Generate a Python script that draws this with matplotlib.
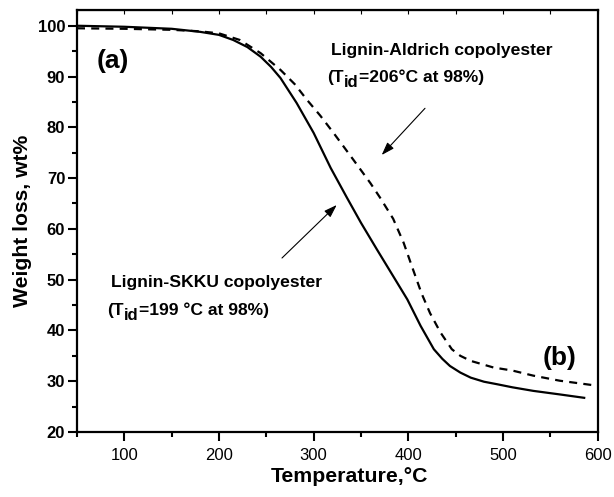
import matplotlib
matplotlib.use("Agg")
import matplotlib.pyplot as plt
from matplotlib.ticker import MultipleLocator

plt.rcParams['font.family'] = ['Liberation Sans', 'DejaVu Sans']

# Lignin-SKKU copolyester (solid)
skku_t = [50, 100, 150, 180, 200, 215, 230, 244, 255, 265, 282, 300, 318, 335, 350, 367, 384, 399,
          413, 427, 436, 444, 455, 466, 480, 494, 510, 532, 560, 587]
skku_w = [100.0, 99.8, 99.4, 98.8, 98.2, 97.2, 95.8, 93.9, 91.9, 89.7, 84.8, 78.9, 72.0, 66.2, 61.2,
          55.9, 50.7, 46.1, 40.9, 36.3, 34.4, 33.0, 31.7, 30.7, 29.9, 29.4, 28.8, 28.1, 27.4, 26.7]
# Lignin-Aldrich copolyester (dashed)
ald_t = [50, 100, 150, 180, 200, 222, 244, 265, 280, 293, 307, 321, 342, 360, 370, 384, 395, 405,
         414, 423, 434, 446, 455, 466, 490, 510, 532, 560, 600]
ald_w = [99.5, 99.4, 99.2, 98.9, 98.5, 97.2, 94.6, 91.3, 88.5, 85.4, 82.3, 78.9, 73.6, 69.0, 66.2,
         62.0, 57.3, 52.0, 47.3, 43.4, 39.6, 36.3, 35.0, 34.0, 32.7, 32.1, 31.1, 30.1, 29.1]

xticks = [100, 200, 300, 400, 500, 600]
yticks = [20, 30, 40, 50, 60, 70, 80, 90, 100]

W, H = 614, 497
fig = plt.figure(figsize=(W / 100, H / 100), dpi=100)
ax = fig.add_axes([77 / W, 1 - 432 / H, (597.6 - 77) / W, (432 - 10) / H])

ax.plot(skku_t, skku_w, color='black', lw=1.6, solid_joinstyle='round', solid_capstyle='butt')
ax.plot(ald_t, ald_w, color='black', lw=1.6, dashes=(3.6, 2.8))

ax.set_xlim(50, 600)
ax.set_ylim(20, 103.1)
ax.set_xticks(xticks)
ax.set_yticks(yticks)
ax.xaxis.set_minor_locator(MultipleLocator(50))
ax.yaxis.set_minor_locator(MultipleLocator(5))
ax.tick_params(axis='both', which='major', direction='out', length=6.5, width=1.5)
ax.tick_params(axis='both', which='minor', direction='out', length=3.5, width=1.5)
ax.tick_params(axis='x', labelsize=12, pad=5)
ax.tick_params(axis='y', labelsize=12, pad=2)
for lab in ax.get_yticklabels():
    lab.set_fontweight('bold')
for s in ax.spines.values():
    s.set_linewidth(1.6)

# small inner ticks on the top edge
ax2 = ax.secondary_xaxis('top')
ax2.set_xticks(xticks)
ax2.xaxis.set_minor_locator(MultipleLocator(50))
ax2.tick_params(which='both', direction='in', length=3, width=0.8, labeltop=False)

ax.set_xlabel('Temperature,°C', fontsize=15.3, fontweight='bold', labelpad=2)
ax.xaxis.set_label_coords((350 - 77) / (597.6 - 77), -0.083)
ax.set_ylabel('Weight loss, wt%', fontsize=15.2, fontweight='bold', labelpad=4)


def fx(px):
    return px / W


def fy(py):
    return 1 - py / H


fig.text(fx(96.5), fy(61), '(a)', fontsize=19, fontweight='bold', va='center', ha='left')
fig.text(fx(543), fy(358.5), '(b)', fontsize=19, fontweight='bold', va='center', ha='left')

FS = 12.6
fig.text(fx(331), fy(55), 'Lignin-Aldrich copolyester', fontsize=FS, fontweight='bold',
         va='baseline', ha='left')
fig.text(fx(111), fy(287), 'Lignin-SKKU copolyester', fontsize=FS, fontweight='bold',
         va='baseline', ha='left')

renderer = fig.canvas.get_renderer()


def sub_text(x, y, pre, sub, post):
    t1 = fig.text(fx(x), fy(y), pre, fontsize=FS, fontweight='bold', va='baseline', ha='left')
    w1 = t1.get_window_extent(renderer).width
    t2 = fig.text(fx(x + w1), fy(y + 5), sub, fontsize=FS * 0.95, fontweight='bold',
                  va='baseline', ha='left')
    w2 = t2.get_window_extent(renderer).width
    fig.text(fx(x + w1 + w2), fy(y), post, fontsize=FS, fontweight='bold', va='baseline', ha='left')


sub_text(327.5, 82, '(T', 'id', '=206°C at 98%)')
sub_text(107.5, 315, '(T', 'id', '=199 °C at 98%)')

arrow = dict(arrowstyle='-|>,head_length=0.65,head_width=0.22', color='black', lw=0.8,
             mutation_scale=12, shrinkA=0, shrinkB=0)
ax.annotate('', xy=(fx(381.7), fy(155)), xytext=(fx(425), fy(108.3)),
            xycoords='figure fraction', textcoords='figure fraction', arrowprops=arrow)
ax.annotate('', xy=(fx(336.7), fy(205)), xytext=(fx(282), fy(258)),
            xycoords='figure fraction', textcoords='figure fraction', arrowprops=arrow)

fig.savefig('out.png', dpi=100)
